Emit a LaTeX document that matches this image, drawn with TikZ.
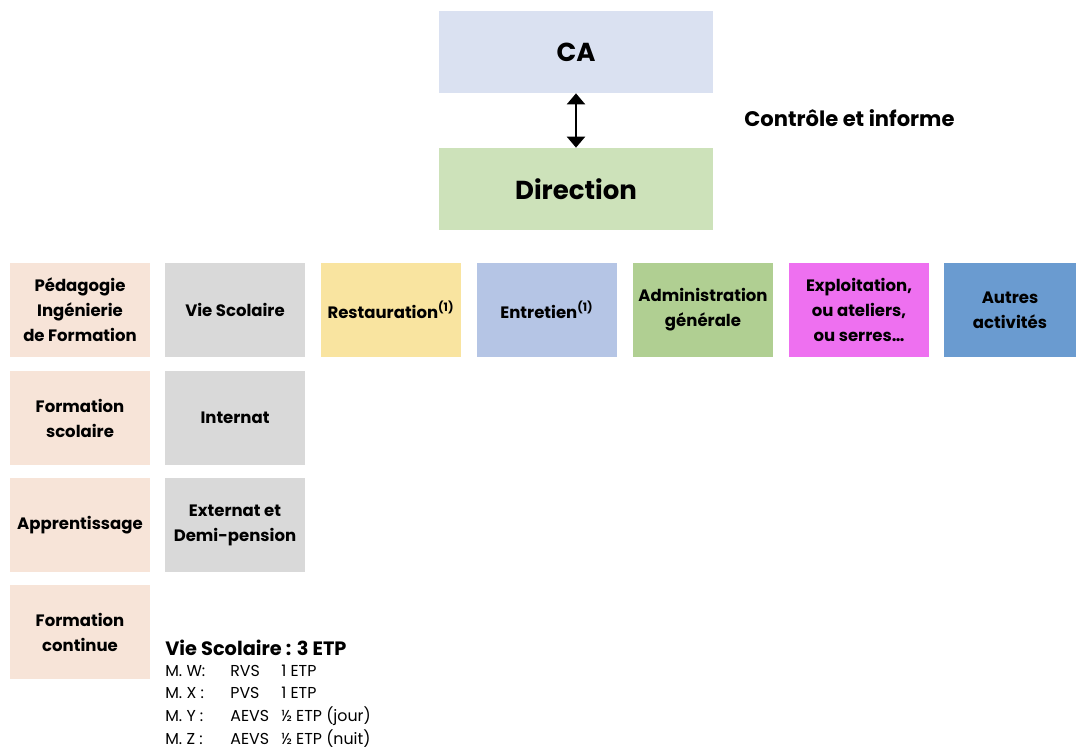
\documentclass[tikz,border=0pt]{standalone}
\usepackage{fontspec}
\setmainfont{Poppins}
\usetikzlibrary{arrows.meta, positioning}
\definecolor{cafill}{HTML}{DAE1F1}
\definecolor{dirfill}{HTML}{CDE2BA}
\definecolor{pedfill}{HTML}{F7E4D8}
\definecolor{vsfill}{HTML}{D9D9D9}
\definecolor{resfill}{HTML}{F9E4A0}
\definecolor{entfill}{HTML}{B5C5E5}
\definecolor{admfill}{HTML}{B0CF92}
\definecolor{expfill}{HTML}{EE70F0}
\definecolor{autfill}{HTML}{6A9BD0}
\tikzset{
  box/.style   = {inner sep=2pt, align=center, minimum height=1.9cm,
                  minimum width=2.8cm, font=\fontsize{9.4}{14.2}\selectfont\bfseries},
  head/.style  = {box, minimum width=5.48cm, minimum height=1.64cm,
                  font=\fontsize{14.8}{16}\selectfont\bfseries},
  sig/.style   = {{Triangle[width=3.6mm, length=2.2mm]}-{Triangle[width=3.6mm, length=2.2mm]},
                  line width=1.2pt},
  note/.style  = {anchor=west, inner sep=0pt, font=\fontsize{9}{11}\selectfont},
}

\begin{document}
\begin{tikzpicture}[x=0.02cm, y=-0.02cm]
\useasboundingbox (0,0) rectangle (1076,751);

% =========================================================================
% CA et Direction
% =========================================================================
\node[head, fill=cafill] (ca) at (576,52) {CA};
\node[head, fill=dirfill] (dir) at (576,189) {Direction};
\draw[sig] (ca.south) -- (dir.north);
\node[anchor=west, inner sep=0pt, font=\fontsize{12}{14}\selectfont\bfseries]
  (ctrl) at (744,118) {Contrôle et informe};

% =========================================================================
% Services
% =========================================================================
\node[box, fill=pedfill] (ped) at (80,310) {Pédagogie\\Ingénierie\\de Formation};
\node[box, fill=vsfill]  (vs)  at (235,310) {Vie Scolaire};
\node[box, fill=resfill] (res) at (391,310) {Restauration\textsuperscript{(1)}};
\node[box, fill=entfill] (ent) at (547,310) {Entretien\textsuperscript{(1)}};
\node[box, fill=admfill] (adm) at (703,310) {Administration\\générale};
\node[box, fill=expfill] (exp) at (859,310) {Exploitation,\\ou ateliers,\\ou serres\dots};
\node[box, fill=autfill, minimum width=2.64cm] (aut) at (1010,310) {Autres\\activités};

\node[box, fill=pedfill] (fsc) at (80,418) {Formation\\scolaire};
\node[box, fill=pedfill] (app) at (80,525) {Apprentissage};
\node[box, fill=pedfill] (fco) at (80,632) {Formation\\continue};

\node[box, fill=vsfill] (int) at (235,418) {Internat};
\node[box, fill=vsfill] (ext) at (235,525) {Externat et\\Demi-pension};

% =========================================================================
% Effectifs vie scolaire
% =========================================================================
\node[note, font=\fontsize{11}{13}\selectfont\bfseries] (etp) at (165,648) {Vie Scolaire : 3 ETP};
\foreach \y/\m/\f/\q in {671/M. W:/RVS/1 ETP, 693/M. X :/PVS/1 ETP,
                         716/M. Y :/AEVS/½ ETP (jour), 739/M. Z :/AEVS/½ ETP (nuit)} {
  \node[note] at (165,\y) {\m};
  \node[note] at (230,\y) {\f};
  \node[note] at (281,\y) {\q};
}

\end{tikzpicture}
\end{document}
